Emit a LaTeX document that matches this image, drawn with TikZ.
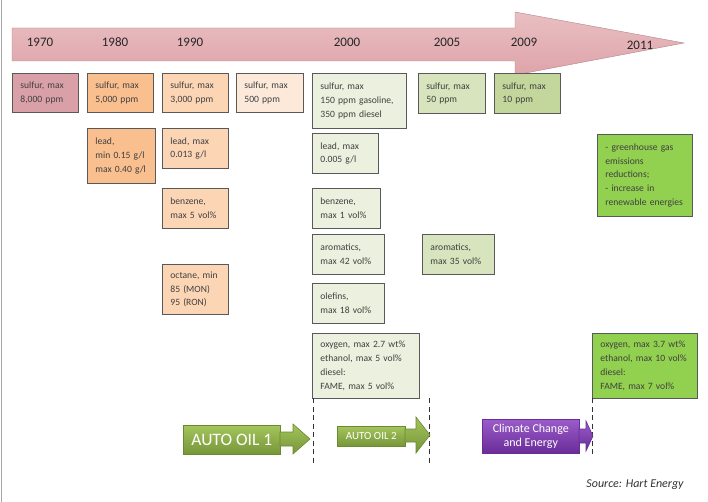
\documentclass[tikz,border=0pt]{standalone}
\usepackage{fontspec}
\setmainfont{Carlito}
\definecolor{c70}{HTML}{D9A0A8}
\definecolor{c80}{HTML}{FABF8F}
\definecolor{c90}{HTML}{FCD5B5}
\definecolor{c95}{HTML}{FDE9D9}
\definecolor{c00}{HTML}{EBF1DE}
\definecolor{c05}{HTML}{D7E4BD}
\definecolor{c09}{HTML}{C3D69B}
\definecolor{cg}{HTML}{92D050}
\definecolor{boxline}{HTML}{595959}
\definecolor{txt}{HTML}{404040}
\definecolor{gtop}{HTML}{A4C45C}
\definecolor{gbot}{HTML}{76963A}
\definecolor{gline}{HTML}{6A8A30}
\definecolor{ptop}{HTML}{9A5CC8}
\definecolor{pbot}{HTML}{6A2C98}
\definecolor{tlA}{HTML}{E9BFC2}
\definecolor{tlB}{HTML}{FBF1F1}
\definecolor{tlC}{HTML}{DEA4AA}
\begin{document}
\begin{tikzpicture}[x=1pt,y=-1pt,
  box/.style={draw=boxline, line width=0.8pt, anchor=north west, align=left,
    inner xsep=8pt, inner ysep=2pt, text=txt, font=\fontsize{9.6}{13.8}\selectfont},
  year/.style={text=black!85, font=\fontsize{13}{15}\selectfont},
  gbox/.style={anchor=north west, draw=gline, line width=0.6pt, top color=gtop, bottom color=gbot,
    text=white, align=center, inner sep=0pt},
  garrow/.style={draw=gline, line width=0.6pt, top color=gtop, bottom color=gbot},
  pbox/.style={anchor=north west, draw=pbot, line width=0.6pt, top color=ptop, bottom color=pbot,
    text=white, align=center, inner sep=0pt},
  parrow/.style={draw=pbot, line width=0.6pt, top color=ptop, bottom color=pbot},
  guide/.style={draw=black!80, line width=0.8pt, dash pattern=on 5pt off 3.5pt}
]
\useasboundingbox (0,0) rectangle (708,502);
\fill[white] (0,0) rectangle (708,502);
\draw[black!35, line width=1.5pt] (1.5,0) -- (1.5,502);

% timeline arrow
\shade[top color=tlA, middle color=tlB, bottom color=tlC, draw=tlC!80!black, line width=0.4pt]
  (12,28) -- (515,28) -- (515,12) -- (684,43) -- (515,75) -- (515,61) -- (12,61) -- cycle;
\node[year] (y70) at (40,42) {1970};
\node[year] (y80) at (115,42) {1980};
\node[year] (y90) at (190,42) {1990};
\node[year] (y00) at (347,42) {2000};
\node[year] (y05) at (447,42) {2005};
\node[year] (y09) at (524,42) {2009};
\node[year] (y11) at (640,45) {2011};

% sulfur row
\node[box, fill=c70, minimum width=66pt, minimum height=39pt, text width=50pt] (s70) at (12,73) {sulfur, max\\8,000 ppm};
\node[box, fill=c80, minimum width=66pt, minimum height=39pt, text width=50pt] (s80) at (87,73) {sulfur, max\\5,000 ppm};
\node[box, fill=c90, minimum width=66pt, minimum height=39pt, text width=50pt] (s90) at (162,73) {sulfur, max\\3,000 ppm};
\node[box, fill=c95, minimum width=67pt, minimum height=39pt, text width=51pt] (s95) at (236,73) {sulfur, max\\500 ppm};
\node[box, fill=c00, minimum width=94pt, minimum height=55pt, text width=78pt] (s00) at (312,73) {sulfur, max\\150 ppm gasoline,\\350 ppm diesel};
\node[box, fill=c05, minimum width=67pt, minimum height=40pt, text width=51pt] (s05) at (418,73) {sulfur, max\\50 ppm};
\node[box, fill=c09, minimum width=66pt, minimum height=40pt, text width=50pt] (s09) at (494,73) {sulfur, max\\10 ppm};

% lead row
\node[box, fill=c80, minimum width=68pt, minimum height=55pt, text width=52pt] (l80) at (87,128) {lead,\\min 0.15 g/l\\max 0.40 g/l};
\node[box, fill=c90, minimum width=66pt, minimum height=40pt, text width=50pt] (l90) at (162,128) {lead, max\\0.013 g/l};
\node[box, fill=c00, minimum width=66pt, minimum height=40pt, text width=50pt] (l00) at (312,133) {lead, max\\0.005 g/l};
\node[box, fill=cg, minimum width=95pt, minimum height=82pt, text width=79pt] (ghg) at (597,134) {- greenhouse gas\\emissions\\reductions;\\- increase in\\renewable energies};

% benzene
\node[box, fill=c90, minimum width=66pt, minimum height=40pt, text width=50pt] (b90) at (162,188) {benzene,\\max 5 vol\%};
\node[box, fill=c00, minimum width=68pt, minimum height=40pt, text width=52pt] (b00) at (312,188) {benzene,\\max 1 vol\%};

% aromatics / octane / olefins
\node[box, fill=c00, minimum width=72pt, minimum height=40pt, text width=56pt] (a00) at (312,234) {aromatics,\\max 42 vol\%};
\node[box, fill=c05, minimum width=72pt, minimum height=40pt, text width=56pt] (a05) at (422,234) {aromatics,\\max 35 vol\%};
\node[box, fill=c90, minimum width=66pt, minimum height=50pt, text width=50pt] (o90) at (162,264) {octane, min\\85 (MON)\\95 (RON)};
\node[box, fill=c00, minimum width=72pt, minimum height=40pt, text width=56pt] (ol00) at (312,283) {olefins,\\max 18 vol\%};

% oxygen
\node[box, fill=c00, minimum width=107pt, minimum height=65pt, text width=91pt] (ox00) at (312,333) {oxygen, max 2.7 wt\%\\ethanol, max 5 vol\%\\diesel:\\FAME, max 5 vol\%};
\node[box, fill=cg, minimum width=105pt, minimum height=65pt, text width=89pt] (ox11) at (592,333) {oxygen, max 3.7 wt\%\\ethanol, max 10 vol\%\\diesel:\\FAME, max 7 vol\%};

% dashed guides
\coordinate (g1a) at (313,398); \coordinate (g1b) at (313,463);
\coordinate (g2a) at (429,398); \coordinate (g2b) at (429,463);
\coordinate (g3a) at (592,398); \coordinate (g3b) at (592,456);
\draw[guide] (g1a) -- (g1b);
\draw[guide] (g2a) -- (g2b);
\draw[guide] (g3a) -- (g3b);

% programme arrows
\node[gbox, minimum width=97pt, minimum height=29pt, font=\fontsize{17.5}{19}\selectfont] (ao1) at (183,425) {AUTO OIL 1};
\path[garrow] (280,432) -- (293,432) -- (293,424) -- (310,439) -- (293,454) -- (293,446) -- (280,446) -- cycle;

\node[gbox, minimum width=68pt, minimum height=20pt, font=\fontsize{11}{12}\selectfont] (ao2) at (337,426) {AUTO OIL 2};
\path[garrow] (405,429) -- (416,429) -- (416,417) -- (430,435) -- (416,453) -- (416,442) -- (405,442) -- cycle;

\node[pbox, minimum width=97pt, minimum height=34pt, font=\fontsize{12}{13.5}\selectfont] (cc) at (482,419) {Climate Change\\and Energy};
\path[parrow] (579,429) -- (586,429) -- (586,421) -- (593,436) -- (586,451) -- (586,443) -- (579,443) -- cycle;

\node[text=black!80, font=\itshape\fontsize{12}{14}\selectfont] (src) at (635,485) {Source: Hart Energy};
\end{tikzpicture}
\end{document}
